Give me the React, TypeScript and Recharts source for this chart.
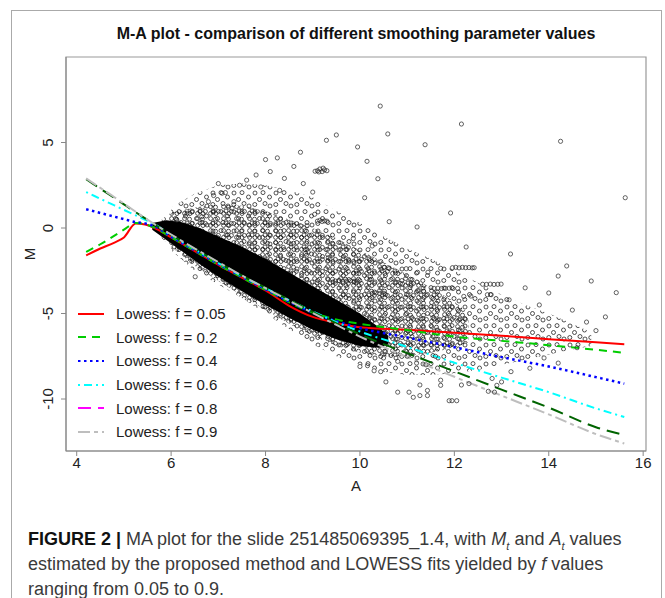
import React from "react";
import {
  ComposedChart,
  Line,
  Scatter,
  Area,
  XAxis,
  YAxis,
  ReferenceArea,
} from "recharts";

// ---------- axes ----------
const xDomain: [number, number] = [3.773, 16.06];
const yDomain: [number, number] = [-13.04, 10.0];
const xTicks = [4, 6, 8, 10, 12, 14, 16];
const yTicks = [-10, -5, 0, 5];

// ---------- lowess curves ----------
const curveA = [4.2, 4.5, 4.8, 5.0, 5.25, 5.45, 5.65, 6.0, 6.5, 7.0, 7.5, 8.0, 8.5, 9.0, 9.5, 10.0, 11.0, 12.0, 13.0, 14.0, 15.0, 15.6];
const f005 = [-1.6, -1.2, -0.85, -0.55, 0.27, 0.2, 0.0, -0.55, -1.35, -2.15, -2.9, -3.65, -4.55, -5.2, -5.55, -5.8, -5.95, -6.12, -6.3, -6.5, -6.68, -6.8];
const f02 = [-1.4, -0.95, -0.45, -0.1, 0.3, 0.22, 0.02, -0.55, -1.35, -2.15, -2.9, -3.62, -4.35, -4.95, -5.35, -5.6, -5.97, -6.35, -6.6, -6.85, -7.12, -7.3];
const f04 = [1.1, 0.88, 0.66, 0.52, 0.34, 0.27, 0.1, -0.5, -1.3, -2.1, -2.85, -3.58, -4.3, -4.95, -5.45, -5.85, -6.4, -6.97, -7.55, -8.1, -8.72, -9.1];
const f06 = [2.1, 1.71, 1.32, 1.06, 0.74, 0.48, 0.22, -0.42, -1.25, -2.05, -2.8, -3.52, -4.22, -4.88, -5.5, -6.05, -6.95, -7.88, -8.75, -9.6, -10.55, -11.05];
const f08 = [2.85, 2.3, 1.75, 1.38, 0.92, 0.56, 0.2, -0.4, -1.22, -2.02, -2.78, -3.5, -4.2, -4.9, -5.58, -6.22, -7.32, -8.38, -9.45, -10.5, -11.65, -12.1];
const f09 = [2.9, 2.35, 1.8, 1.42, 0.95, 0.58, 0.22, -0.38, -1.2, -2.0, -2.78, -3.52, -4.25, -4.97, -5.67, -6.35, -7.55, -8.7, -9.8, -10.9, -12.05, -12.6];

// ---------- solid mass of overlapping points ----------
const coreA = [5.6, 5.9, 6.2, 6.6, 7.0, 7.5, 8.0, 8.5, 9.0, 9.5, 10.0, 10.4, 10.6];
const coreLow = [-0.1, -0.7, -1.3, -2.1, -2.85, -3.7, -4.5, -5.25, -5.95, -6.5, -6.9, -7.0, -6.8];
const coreHigh = [0.3, 0.45, 0.35, 0.0, -0.5, -1.1, -1.8, -2.6, -3.4, -4.2, -5.0, -5.8, -6.3];

// ---------- dense speckle around it ----------
const innerA = [5.8, 6.0, 6.5, 7.0, 7.5, 8.0, 8.5, 9.0, 9.5, 10.0, 10.5, 11.0, 11.5, 12.0, 12.3];
const innerLow = [-0.6, -1.1, -2.2, -3.1, -3.95, -4.8, -5.6, -6.3, -6.9, -7.3, -7.5, -7.5, -7.3, -7.0, -6.7];
const innerHigh = [0.5, 0.9, 1.2, 1.4, 1.3, 1.0, 0.5, 0.0, -0.6, -1.3, -2.0, -2.7, -3.5, -4.3, -5.0];

// ---------- sparse speckle further out ----------
const outerA = [6.0, 6.5, 7.0, 7.5, 8.0, 8.5, 9.0, 9.5, 10.0, 10.5, 11.0, 11.5, 12.0, 12.5, 13.0, 13.5, 14.0, 14.5, 14.9];
const outerLow = [-1.3, -2.5, -3.3, -4.1, -5.0, -5.9, -6.8, -7.5, -8.0, -8.4, -8.6, -8.6, -8.5, -8.3, -8.0, -7.7, -7.4, -7.1, -6.9];
const outerHigh = [1.2, 2.0, 2.5, 2.6, 2.5, 2.2, 1.8, 1.0, 0.3, -0.5, -1.2, -1.8, -2.5, -3.2, -3.9, -4.5, -5.0, -5.6, -6.1];

// ---------- individual points ----------
const pointsA = [
  10.43, 12.15, 14.25, 15.62, 9.5, 9.29, 10.59, 9.95, 11.38, 10.15, 10.38, 10.1, 11.92, 10.62, 11.21, 9.86, 12.25, 13.19, 14.38, 14.2, 15.43, 8.74,
  9.1, 9.15, 9.2, 9.25, 9.13, 9.22, 9.3, 9.05,
  9.1, 9.15, 9.2, 9.25, 9.3, 9.04,
  8.74, 8.88, 8.85, 8.9, 9.33, 9.76, 10.26, 10.51, 10.6, 10.98, 11.22, 11.44, 11.71,
  11.96, 12.03, 12.1, 12.17, 12.24, 12.31, 12.38, 12.42,
  9.93, 10.22,
  9.48, 9.56, 9.64, 9.72, 9.8, 9.88, 9.94,
  12.6, 12.68, 12.76, 12.84, 12.92, 12.99,
  11.57, 11.65, 11.73, 11.81, 11.89, 11.97, 12.07,
  10.9, 11.08, 11.22, 11.35,
  10.26, 10.34, 10.42, 10.51,
  12.2, 12.35, 12.7, 12.78, 13.16,
  10.8, 11.04, 11.13, 11.27, 11.27, 11.43, 11.43, 11.71, 11.71, 11.89, 11.95, 12.05, 12.15, 12.31, 12.72, 12.85, 12.9, 10.55,
  10.0, 10.16, 10.3, 10.44, 10.5, 10.8, 11.0, 11.2, 11.4, 11.6,
  7.08, 7.15, 6.79, 7.33, 7.29, 6.51, 6.9, 6.34, 6.12, 6.65, 7.6, 7.8, 8.0, 8.25, 7.45, 8.1, 8.4, 8.6, 7.9, 8.3, 8.8, 9.0, 7.0, 6.9,
  13.5, 13.8, 14.0, 14.5, 14.8, 15.0, 15.2, 14.6, 13.9, 13.2, 13.6, 14.2, 12.8, 13.0, 14.9,
];
const pointsM = [
  7.13, 6.08, 5.07, 1.77, 5.44, 5.13, 5.5, 4.74, 4.87, 3.9, 2.88, 1.77, 0.88, 0.37, 0.06, -0.62, -1.11, -1.52, -2.22, -2.81, -3.78, 4.43,
  3.35, 3.45, 3.3, 3.4, 3.28, 3.5, 3.35, 3.32,
  0.4, 0.45, 0.38, 0.42, 0.4, 0.8,
  0.13, 0.13, -1.48, -1.4, -1.74, -1.99, -1.05, -2.3, -2.32, -2.38, -2.59, -2.59, -2.36,
  -2.32, -2.3, -2.33, -2.3, -2.32, -2.31, -2.33, -2.32,
  -2.65, -2.85,
  -3.1, -3.08, -3.12, -3.1, -3.09, -3.11, -3.1,
  -3.29, -3.3, -3.28, -3.3, -3.29, -3.28,
  -3.53, -3.52, -3.54, -3.53, -3.52, -3.54, -3.53,
  -3.27, -3.27, -3.67, -3.7,
  -3.82, -3.8, -3.83, -3.82,
  -4.0, -3.98, -3.9, -3.9, -4.2,
  -9.6, -9.6, -9.9, -9.18, -9.8, -9.5, -9.8, -8.9, -9.2, -10.1, -10.1, -10.1, -9.18, -9.1, -9.55, -9.6, -9.2, -9.0,
  -8.1, -8.05, -8.35, -8.4, -7.6, -7.8, -7.5, -7.9, -8.0, -7.5,
  2.03, 2.07, 1.54, 1.54, 1.15, -2.85, 0.95, 0.86, 0.47, 0.66, 2.8, 3.1, 4.0, 4.1, 2.5, 3.3, 2.9, 3.6, 2.4, 2.2, 2.6, 2.1, 2.6, 1.9,
  -3.5, -4.5, -3.8, -4.8, -5.5, -6.0, -5.2, -7.0, -7.6, -8.4, -8.2, -7.9, -8.8, -9.0, -3.1,
];

// ---------- legend ----------
const legendLabels = ["Lowess: f = 0.05", "Lowess: f = 0.2", "Lowess: f = 0.4", "Lowess: f = 0.6", "Lowess: f = 0.8", "Lowess: f = 0.9"];

const curveData = (ms: number[]) => curveA.map((a, i) => ({ a, m: ms[i] }));
const rangeData = (as: number[], lo: number[], hi: number[]) => as.map((a, i) => ({ a, r: [lo[i], hi[i]] }));
const pointData = pointsA.map((a, i) => ({ a, m: pointsM[i] }));

const curveStyles = [
  { data: f005, stroke: "#FF0000", dash: undefined, w: 2 },
  { data: f02, stroke: "#00CD00", dash: "8 6", w: 2 },
  { data: f04, stroke: "#0000FF", dash: "2.5 3.5", w: 2.5 },
  { data: f06, stroke: "#00FFFF", dash: "2 4 8 4", w: 2 },
  { data: f08, stroke: "#006400", dash: "13 7", w: 2 },
  { data: f09, stroke: "#BEBEBE", dash: "12 4 4 4", w: 2 },
];
const legendStyles = [
  { stroke: "#FF0000", dash: undefined },
  { stroke: "#00CD00", dash: "8 6" },
  { stroke: "#0000FF", dash: "2.5 3.5" },
  { stroke: "#00FFFF", dash: "2 4 8 4" },
  { stroke: "#FF00FF", dash: "13 7" },
  { stroke: "#BEBEBE", dash: "12 4 4 4" },
];

const FONT = "'Liberation Sans', Arial, Helvetica, sans-serif";

const Pt = (props: any) => {
  const { cx, cy } = props;
  if (cx == null || cy == null) return null;
  return <circle cx={cx} cy={cy} r={2.1} fill="none" stroke="#222" strokeWidth={0.7} />;
};

const YTick = (props: any) => {
  const { x, y, payload } = props;
  const bx = x - 5.5;
  return (
    <text x={bx} y={y} transform={`rotate(-90 ${bx} ${y})`} textAnchor="middle" fontSize={15} fill="#222" fontFamily={FONT}>
      {payload.value}
    </text>
  );
};

const C = (p: { x: number; y: number }) => (
  <circle cx={p.x} cy={p.y} r={2} fill="none" stroke="#1a1a1a" strokeWidth={0.75} />
);

export default function App() {
  return (
    <div style={{ position: "absolute", left: 0, top: 0, width: 665, height: 598, background: "#fff", overflow: "hidden", fontFamily: FONT }}>
      <svg width={0} height={0} style={{ position: "absolute" }}>
        <defs>
          <pattern id="sparse" width="21" height="19" patternUnits="userSpaceOnUse">
            <C x={3} y={3} />
            <C x={11} y={2.6} />
            <C x={17.5} y={7} />
            <C x={7.5} y={9.5} />
            <C x={2.8} y={14.5} />
            <C x={13} y={13.5} />
            <C x={18} y={16} />
          </pattern>
          <pattern id="dense" width="13" height="12" patternUnits="userSpaceOnUse">
            <C x={2.6} y={2.6} />
            <C x={7.5} y={3.2} />
            <C x={10.4} y={7.4} />
            <C x={5} y={7} />
            <C x={2.6} y={9.4} />
            <C x={8} y={9.5} />
          </pattern>
        </defs>
      </svg>
      {/* figure frame */}
      <div style={{ position: "absolute", left: 11, top: 10, width: 649, height: 600, border: "1.5px solid #aaa" }} />
      <ComposedChart width={665} height={598} margin={{ top: 57, right: 19, bottom: 117, left: 26 }}>
        <XAxis
          type="number"
          dataKey="a"
          domain={xDomain}
          ticks={xTicks}
          allowDataOverflow
          tickSize={5}
          tickMargin={1}
          stroke="#888"
          tick={{ fontSize: 15, fill: "#222", fontFamily: FONT }}
          height={30}
        />
        <YAxis
          type="number"
          dataKey="m"
          domain={yDomain}
          ticks={yTicks}
          allowDataOverflow
          tickSize={5}
          tickMargin={2}
          stroke="#888"
          tick={<YTick />}
          width={40}
        />
        <Area data={rangeData(outerA, outerLow, outerHigh)} dataKey="r" type="linear" fill="url(#sparse)" fillOpacity={1} stroke="none" isAnimationActive={false} />
        <Area data={rangeData(innerA, innerLow, innerHigh)} dataKey="r" type="linear" fill="url(#dense)" fillOpacity={1} stroke="none" isAnimationActive={false} />
        <Area data={rangeData(coreA, coreLow, coreHigh)} dataKey="r" type="linear" fill="#000" fillOpacity={1} stroke="none" isAnimationActive={false} />
        <Scatter data={pointData} dataKey="m" shape={<Pt />} isAnimationActive={false} />
        {curveStyles.map((c, i) => (
          <Line
            key={i}
            data={curveData(c.data)}
            dataKey="m"
            type="monotone"
            stroke={c.stroke}
            strokeWidth={c.w}
            strokeDasharray={c.dash}
            dot={false}
            isAnimationActive={false}
          />
        ))}
        <ReferenceArea x1={xDomain[0]} x2={xDomain[1]} y1={yDomain[0]} y2={yDomain[1]} fill="none" stroke="#999" strokeWidth={1.2} ifOverflow="visible" />
      </ComposedChart>
      {/* title and axis titles */}
      <div style={{ position: "absolute", left: 66, width: 580, top: 25, textAlign: "center", fontWeight: "bold", fontSize: 16, color: "#111" }}>
        M-A plot - comparison of different smoothing parameter values
      </div>
      <div style={{ position: "absolute", left: 306, width: 100, top: 477, textAlign: "center", fontSize: 15, color: "#222" }}>A</div>
      <div style={{ position: "absolute", left: 29, top: 254, transform: "translate(-50%, -50%) rotate(-90deg)", fontSize: 15, color: "#222" }}>M</div>
      {/* legend */}
      <div style={{ position: "absolute", left: 76, top: 302 }}>
        {legendLabels.map((lab, i) => (
          <div key={i} style={{ height: 23.6, display: "flex", alignItems: "center" }}>
            <svg width={30} height={10} style={{ marginRight: 10 }}>
              <line x1={2} y1={5} x2={28} y2={5} stroke={legendStyles[i].stroke} strokeWidth={2} strokeDasharray={legendStyles[i].dash} />
            </svg>
            <span style={{ fontSize: 15, color: "#222", whiteSpace: "nowrap" }}>{lab}</span>
          </div>
        ))}
      </div>
      {/* caption */}
      <div style={{ position: "absolute", left: 28, top: 527, fontSize: 18, lineHeight: "25px", color: "#3a3a3a", whiteSpace: "nowrap" }}>
        <b style={{ color: "#111" }}>FIGURE 2 |</b> MA plot for the slide 251485069395_1.4, with <i>M</i>
        <sub style={{ fontSize: 11, lineHeight: 0 }}><i>t</i></sub> and <i>A</i>
        <sub style={{ fontSize: 11, lineHeight: 0 }}><i>t</i></sub> values
        <br />
        estimated by the proposed method and LOWESS fits yielded by <i>f</i> values
        <br />
        ranging from 0.05 to 0.9.
      </div>
    </div>
  );
}
